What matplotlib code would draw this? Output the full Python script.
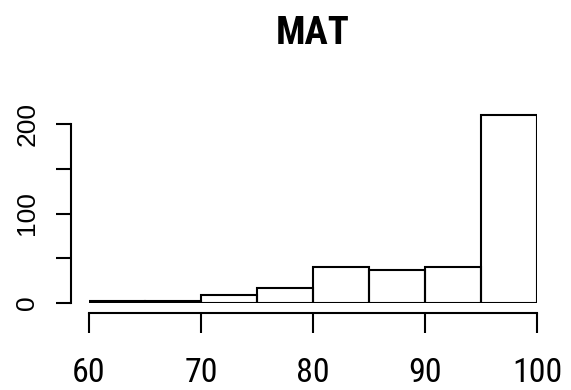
import matplotlib
matplotlib.use("Agg")
import matplotlib.pyplot as plt
from matplotlib import font_manager
import numpy as np

# Data
bin_edges = [60, 65, 70, 75, 80, 85, 90, 95, 100]
counts = [2, 2, 9, 17, 40, 37, 40, 210]
x_ticks = [60, 70, 80, 90, 100]
y_ticks = [0, 50, 100, 150, 200]
y_ticklabels = ["0", "", "100", "", "200"]
title = "MAT"


def find_narrow(bold):
    best = None
    best_score = -1
    for f in font_manager.fontManager.ttflist:
        name = f.name.lower()
        fn = f.fname.lower()
        if any(k in name or k in fn for k in ("mono", "serif", "italic", "oblique", "cjk", "math")):
            continue
        if "sans" not in name and "roboto" not in name and "lato" not in name and "inter" not in name:
            continue
        stretch = str(f.stretch).lower()
        cond = ("narrow" in name or "narrow" in fn or "condensed" in name
                or "condensed" in fn or stretch in ("condensed", "semi-condensed"))
        if not cond:
            continue
        if "extra" in fn or "ultra" in fn or "semi" in fn:
            continue
        w = f.weight if isinstance(f.weight, int) else (700 if "bold" in str(f.weight) else 400)
        is_bold = w >= 600 or "bold" in fn
        if "black" in fn or "light" in fn or "thin" in fn or "medium" in fn or "semibold" in fn:
            continue
        if is_bold != bold:
            continue
        score = 1
        if "liberation" in name or "arial" in name:
            score = 3
        elif "roboto" in name or "noto" in name:
            score = 2
        if score > best_score:
            best, best_score = f.fname, score
    return best


reg = find_narrow(False)
bld = find_narrow(True)
fp_reg = font_manager.FontProperties(fname=reg) if reg else font_manager.FontProperties(family="Liberation Sans")
fp_bold = font_manager.FontProperties(fname=bld) if bld else font_manager.FontProperties(family="Liberation Sans", weight="bold")

W, H = 571, 390
fig = plt.figure(figsize=(W / 100, H / 100), dpi=100)

x_left_px, x_right_px = 89, 537
y0_px, y200_px = 303, 124
ymax = 215
px_per_unit = (y0_px - y200_px) / 200
ytop_px = y0_px - ymax * px_per_unit
ax = fig.add_axes([x_left_px / W, (H - y0_px) / H,
                   (x_right_px - x_left_px) / W, (y0_px - ytop_px) / H])

lw = 1.5
edges = np.array(bin_edges)
widths = np.diff(edges)
ax.bar(edges[:-1], counts, width=widths, align="edge", fill=False,
       edgecolor="black", linewidth=lw)
ax.set_xlim(60, 100)
ax.set_ylim(0, ymax)

for s in ["top", "right"]:
    ax.spines[s].set_visible(False)
ax.spines["bottom"].set_position(("outward", 7.2))
ax.spines["left"].set_position(("outward", 13))
ax.spines["bottom"].set_bounds(60, 100)
ax.spines["left"].set_bounds(0, 200)
for s in ["bottom", "left"]:
    ax.spines[s].set_linewidth(lw)
    ax.spines[s].set_capstyle("projecting")

ax.set_xticks(x_ticks)
xl = ax.set_xticklabels([str(v) for v in x_ticks])
for t in xl:
    t.set_fontproperties(fp_reg)
    t.set_fontsize(24.5)
ax.tick_params(axis="x", direction="out", length=14.4, width=lw, pad=17)

ax.set_yticks(y_ticks)
ax.set_yticklabels(y_ticklabels, family=["Liberation Sans", "DejaVu Sans"],
                   fontsize=19, rotation=90, va="center")
ax.tick_params(axis="y", direction="out", length=10.8, width=lw, pad=12)

tt = ax.set_title(title, pad=48)
tt.set_fontproperties(fp_bold)
tt.set_fontsize(28)

fig.savefig("out.png", dpi=100)
